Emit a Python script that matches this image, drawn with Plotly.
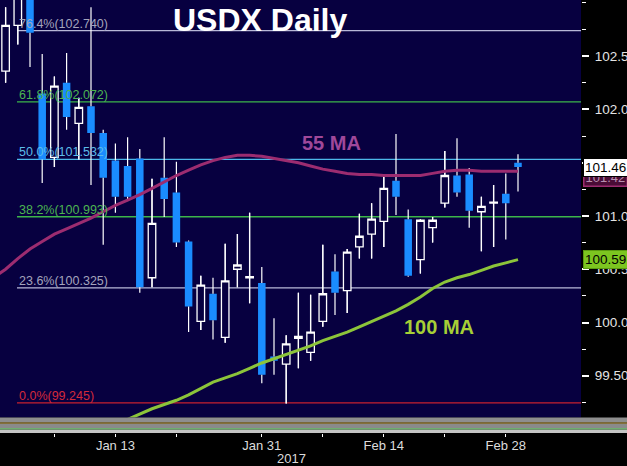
import plotly.graph_objects as go

# ---------------- data ----------------
dates = ["2017-01-02", "2017-01-03", "2017-01-04", "2017-01-05", "2017-01-06",
         "2017-01-09", "2017-01-10", "2017-01-11", "2017-01-12", "2017-01-13",
         "2017-01-16", "2017-01-17", "2017-01-18", "2017-01-19", "2017-01-20",
         "2017-01-23", "2017-01-24", "2017-01-25", "2017-01-26", "2017-01-27",
         "2017-01-30", "2017-01-31", "2017-02-01", "2017-02-02", "2017-02-03",
         "2017-02-06", "2017-02-07", "2017-02-08", "2017-02-09", "2017-02-10",
         "2017-02-13", "2017-02-14", "2017-02-15", "2017-02-16", "2017-02-17",
         "2017-02-20", "2017-02-21", "2017-02-22", "2017-02-23", "2017-02-24",
         "2017-02-27", "2017-02-28", "2017-03-01"]

opens = [102.36, 102.79, 103.12, 102.15, 101.55, 102.25, 101.87, 102.03, 101.78, 101.52,
         101.47, 101.54, 100.42, 101.36, 101.22, 100.76, 100.01, 100.27, 99.86, 100.50,
         100.42, 100.37, 99.68, 99.61, 99.85, 99.72, 100.01, 100.48, 100.30, 100.71,
         100.83, 100.95, 101.33, 100.97, 100.59, 100.89, 101.12, 101.38, 101.39, 101.04,
         101.12, 101.21, 101.50]
highs = [102.96, 103.30, 103.25, 102.52, 102.31, 102.53, 102.11, 102.96, 101.81, 101.68,
         101.74, 101.63, 101.35, 101.74, 101.51, 100.77, 100.44, 100.42, 100.74, 100.83,
         101.03, 100.52, 100.04, 99.88, 100.28, 100.26, 100.73, 100.64, 100.69, 101.02,
         101.12, 101.38, 101.77, 101.06, 100.97, 100.99, 101.61, 101.73, 101.45, 101.18,
         101.29, 101.40, 101.58]
lows = [102.25, 102.61, 102.40, 101.31, 101.46, 101.81, 101.53, 101.29, 100.73, 101.03,
        101.16, 100.28, 100.33, 100.99, 100.71, 99.91, 99.93, 99.84, 99.81, 100.33,
        100.18, 99.43, 99.51, 99.24, 99.57, 99.64, 99.96, 100.07, 100.09, 100.60,
        100.60, 100.71, 101.01, 100.43, 100.46, 100.75, 101.08, 101.18, 100.89, 100.67,
        100.71, 100.78, 101.23]
closes = [102.79, 103.15, 102.72, 101.53, 102.22, 101.93, 102.02, 101.78, 101.36, 101.18,
          101.18, 100.33, 100.93, 101.16, 100.75, 100.15, 100.35, 100.02, 100.39, 100.54,
          100.43, 99.51, 99.64, 99.80, 99.87, 99.91, 100.27, 100.28, 100.66, 100.81,
          100.97, 101.26, 101.18, 100.44, 100.96, 100.96, 101.38, 101.22, 101.05, 101.09,
          101.13, 101.12, 101.46]

# moving averages: first value belongs to the session before the first candle (2016-12-30)
ma_dates = ["2016-12-30"] + dates
ma55 = [100.42, 100.50, 100.60, 100.69, 100.76, 100.83, 100.88, 100.93, 100.98, 101.04,
        101.10, 101.15, 101.20, 101.26, 101.32, 101.38, 101.43, 101.48, 101.52, 101.55,
        101.57, 101.57, 101.56, 101.54, 101.52, 101.50, 101.47, 101.44, 101.42, 101.40,
        101.39, 101.39, 101.38, 101.38, 101.38, 101.38, 101.40, 101.42, 101.43, 101.43,
        101.42, 101.42, 101.42, 101.42]
ma100 = [98.58, 98.62, 98.66, 98.70, 98.74, 98.79, 98.84, 98.89, 98.94, 98.99,
         99.04, 99.09, 99.14, 99.19, 99.23, 99.27, 99.32, 99.38, 99.44, 99.48,
         99.52, 99.57, 99.62, 99.66, 99.70, 99.74, 99.78, 99.83, 99.87, 99.91,
         99.96, 100.01, 100.06, 100.11, 100.17, 100.24, 100.32, 100.38, 100.42, 100.45,
         100.49, 100.53, 100.56, 100.59]

fib_levels = [102.740, 102.072, 101.532, 100.993, 100.325, 99.245]
fib_labels = ["76.4%(102.740)", "61.8%(102.072)", "50.0%(101.532)",
              "38.2%(100.993)", "23.6%(100.325)", "0.0%(99.245)"]

tick_dates = ["2017-01-06", "2017-01-13", "2017-01-20", "2017-01-31", "2017-02-07",
              "2017-02-14", "2017-02-21", "2017-02-28"]
tick_names = ["", "Jan 13", "", "Jan 31", "", "Feb 14", "", "Feb 28"]

ytick_vals = [99.5, 100.0, 100.5, 101.0, 101.5, 102.0, 102.5]
ytick_text = ["99.500", "100.00", "100.50", "101.00", "101.50", "102.00", "102.50"]

last_price = 101.46

# ---------------- styling ----------------
BG = "#070040"
BLUE = "#1a8cff"
fib_line_colors = ["#b8b8d8", "#3db54a", "#4db8e8", "#3db54a", "#b8b8d8", "#c8202e"]
fib_text_colors = ["#a4a4bc", "#4cb550", "#5cbde8", "#4cb550", "#a4a4bc", "#d42a3a"]

PW, PH = 581.0, 433.0          # plot area width / height in px
MAIN_BOTTOM = 417.5            # px where the price pane ends
def px(x):
    return x / PW
def py(y):
    return (PH - y) / PH

xi = list(range(len(dates)))
pos = {d: i for i, d in enumerate(dates)}
ma_x = [pos[d] if d in pos else -1 for d in ma_dates]

fig = go.Figure()

fig.add_trace(go.Candlestick(
    x=xi, open=opens, high=highs, low=lows, close=closes,
    increasing=dict(line=dict(color="white", width=1.3), fillcolor=BG),
    decreasing=dict(line=dict(color=BLUE, width=0), fillcolor=BLUE),
    whiskerwidth=0, hoverinfo="skip", showlegend=False))

# white wicks outside the bodies
wx, wy = [], []
for i, (o, h, l, c) in enumerate(zip(opens, highs, lows, closes)):
    top, bot = max(o, c), min(o, c)
    wx += [i, i, None, i, i, None]
    wy += [h, top, None, bot, l, None]
fig.add_trace(go.Scatter(x=wx, y=wy, mode="lines", line=dict(color="white", width=1.2),
                         hoverinfo="skip", showlegend=False))

fig.add_trace(go.Scatter(x=ma_x, y=ma55, mode="lines",
                         line=dict(color="#9c2c70", width=3), hoverinfo="skip", showlegend=False))
fig.add_trace(go.Scatter(x=ma_x, y=ma100, mode="lines",
                         line=dict(color="#8cc43a", width=3), hoverinfo="skip", showlegend=False))

shapes = []
annotations = []
for lvl, lab, lc, tc in zip(fib_levels, fib_labels, fib_line_colors, fib_text_colors):
    shapes.append(dict(type="line", xref="paper", yref="y", x0=px(17), x1=1, y0=lvl, y1=lvl,
                       line=dict(color=lc, width=1.3), layer="below"))
    annotations.append(dict(text=lab, xref="paper", yref="y", x=px(17), y=lvl,
                            xanchor="left", yanchor="bottom", showarrow=False, yshift=-2,
                            font=dict(family="Liberation Sans, Arial", size=12.5, color=tc)))

# lower mini pane band
band = [(417.5, 422.6, "#8e8e8e"), (422.6, 423.8, "#ab8a2c"), (423.8, 428.0, "#8a8a8a"),
        (428.0, 429.8, "#6fae6f"), (429.8, 433.0, "#c4c4c4")]
for y0, y1, col in band:
    shapes.append(dict(type="rect", xref="paper", yref="paper", x0=0, x1=627 / PW,
                       y0=py(y1), y1=py(y0), fillcolor=col, line=dict(width=0), layer="above"))

annotations += [
    dict(text="<b>USDX Daily</b>", xref="paper", yref="paper", x=px(259.5), y=py(20),
         xanchor="center", yanchor="middle", showarrow=False,
         font=dict(family="Liberation Sans, Arial", size=32, color="white")),
    dict(text="<b>55 MA</b>", xref="paper", yref="paper", x=px(331), y=py(142.5),
         xanchor="center", yanchor="middle", showarrow=False,
         font=dict(family="Liberation Sans, Arial", size=20, color="#a0489a")),
    dict(text="<b>100 MA</b>", xref="paper", yref="paper", x=px(439), y=py(326.5),
         xanchor="center", yanchor="middle", showarrow=False,
         font=dict(family="Liberation Sans, Arial", size=20, color="#a6cf36")),
    dict(text="2017", xref="paper", yref="paper", x=px(291), y=py(458),
         xanchor="center", yanchor="middle", showarrow=False,
         font=dict(family="Liberation Sans, Arial", size=13, color="#dcdcdc")),
    # 55 MA value tag (mostly hidden behind the last-price tag)
    dict(text="%.2f" % ma55[-1], xref="paper", yref="y", x=1, y=ma55[-1], xshift=2, yshift=-6,
         xanchor="left", yanchor="middle", showarrow=False, bgcolor="#4a0c36",
         bordercolor="#9c2c70", borderwidth=1.5, borderpad=1,
         font=dict(family="Liberation Sans, Arial", size=13, color="#b890b0")),
    # last price tag
    dict(text="%.2f" % last_price, xref="paper", yref="y", x=1, y=last_price, xshift=2,
         xanchor="left", yanchor="middle", showarrow=False, bgcolor="white",
         bordercolor="black", borderwidth=1, borderpad=1,
         font=dict(family="Liberation Sans, Arial", size=13.5, color="black")),
    # 100 MA value tag
    dict(text="%.2f" % ma100[-1], xref="paper", yref="y", x=1, y=ma100[-1], xshift=2,
         xanchor="left", yanchor="middle", showarrow=False, bgcolor="#7cc520",
         bordercolor="#5a9a10", borderwidth=1, borderpad=1,
         font=dict(family="Liberation Sans, Arial", size=13.5, color="black")),
]

fig.update_layout(
    width=627, height=466,
    margin=dict(l=0, r=627 - PW, t=0, b=466 - PH, autoexpand=False),
    paper_bgcolor="black", plot_bgcolor=BG,
    showlegend=False, boxgap=0.12,
    shapes=shapes, annotations=annotations,
    xaxis=dict(range=[-5.6 / 12.2, (PW - 5.6) / 12.2], rangeslider=dict(visible=False),
               anchor="free", position=0, showgrid=False, zeroline=False, showline=False,
               automargin=False,
               tickmode="array", tickvals=[pos[d] for d in tick_dates], ticktext=tick_names,
               ticks="outside", ticklen=3, tickwidth=1, tickcolor="white",
               ticklabelstandoff=-3,
               tickfont=dict(family="Liberation Sans, Arial", size=13, color="#dcdcdc")),
    yaxis=dict(range=[99.108, 103.028], domain=[(PH - MAIN_BOTTOM) / PH, 1], side="right",
               showgrid=False, zeroline=False, showline=False, automargin=False,
               tickmode="array", tickvals=ytick_vals, ticktext=ytick_text,
               ticks="outside", ticklen=7, tickwidth=2, tickcolor="white",
               ticklabelstandoff=3,
               minor=dict(dtick=0.25, tick0=0, ticks="outside", ticklen=4, tickwidth=1,
                          tickcolor="white"),
               tickfont=dict(family="Liberation Sans, Arial", size=13.5, color="#e4e4e4")),
)

fig.write_html("out.html", config={"displayModeBar": False},
               post_script="document.body.style.margin='0';document.body.style.overflow='hidden';")
